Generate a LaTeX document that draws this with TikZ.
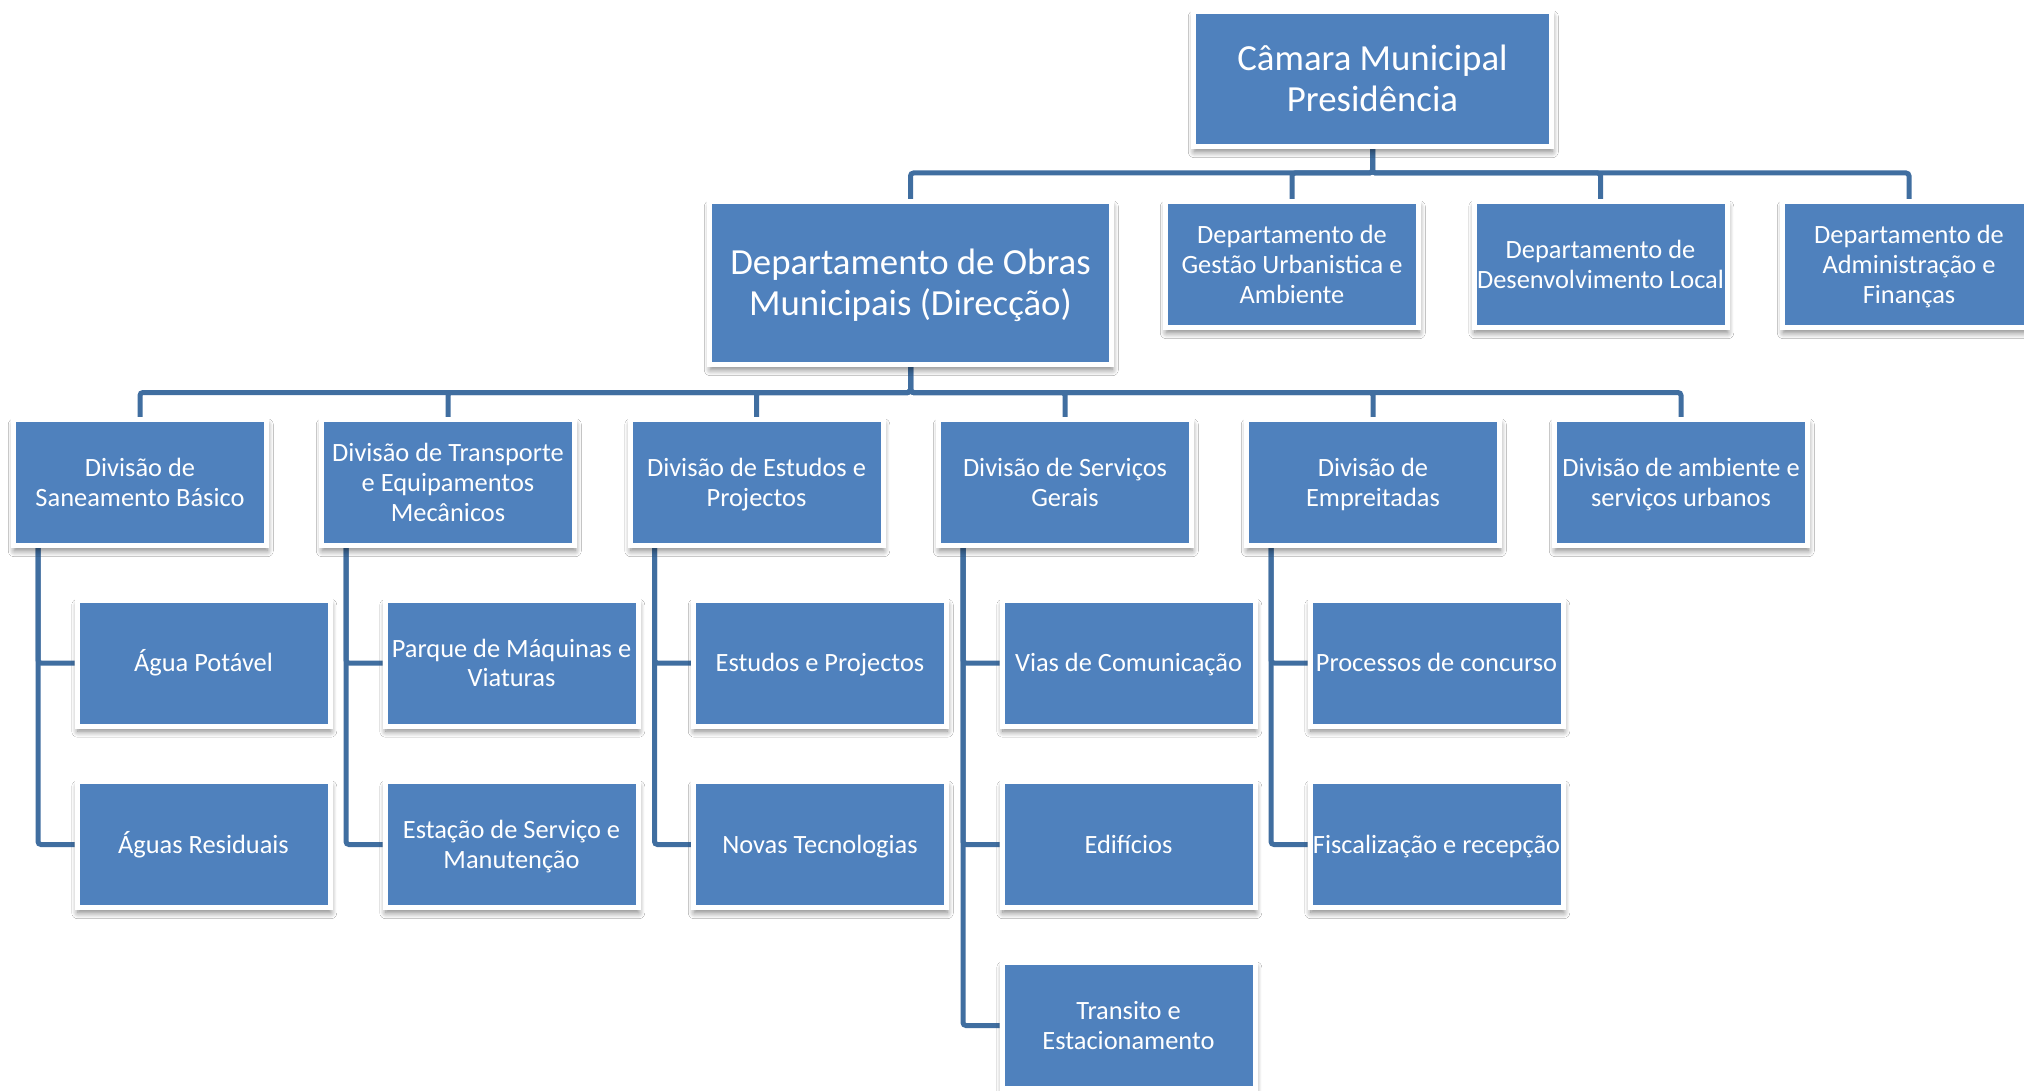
\documentclass[tikz,border=0pt]{standalone}
\usepackage{fontspec}
\setmainfont{Carlito}
\usetikzlibrary{shadows,shadows.blur,backgrounds}
\definecolor{boxblue}{HTML}{4F81BD}
\definecolor{linkblue}{RGB}{64,110,160}
\newcommand\vp{\vphantom{Áp}}
\tikzset{
  base/.style={draw=white, line width=2.5pt, fill=boxblue, text=white, align=center, inner sep=0pt,
    blur shadow={shadow xshift=0.4pt, shadow yshift=-2.6pt, shadow blur radius=3pt, shadow blur steps=10, shadow opacity=50}},
  bigbox/.style={base, font=\fontsize{18.4}{20.6}\selectfont},
  smallbox/.style={base, minimum width=126.5pt, minimum height=63pt, font=\fontsize{13.2}{14.9}\selectfont},
  conn/.style={draw=linkblue, line width=2.5pt, rounded corners=1.5pt},
}
\begin{document}
\begin{tikzpicture}[x=0.5pt,y=-0.5pt]
\useasboundingbox (0,0) rectangle (2024,1091);
% top
\node[bigbox, minimum width=179pt, minimum height=67.5pt] (top) at (1372.5,79) {\vp Câmara Municipal\\Presidência\vp};
% departments
\node[bigbox, minimum width=201pt, minimum height=81.5pt] (obras) at (910.5,283) {\vp Departamento de Obras\\Municipais (Direcção)\vp};
\node[smallbox] (dg) at (1292,264.5) {\vp Departamento de\\Gestão Urbanistica e\\Ambiente\vp};
\node[smallbox] (dd) at (1600.5,264.5) {\vp Departamento de\\Desenvolvimento Local\vp};
\node[smallbox] (da) at (1909,264.5) {\vp Departamento de\\Administração e\\Finanças\vp};
% divisions
\node[smallbox] (d1) at (140,482.5) {\vp Divisão de\\Saneamento Básico\vp};
\node[smallbox] (d2) at (448,482.5) {\vp Divisão de Transporte\\e Equipamentos\\Mecânicos\vp};
\node[smallbox] (d3) at (756.5,482.5) {\vp Divisão de Estudos e\\Projectos\vp};
\node[smallbox] (d4) at (1065,482.5) {\vp Divisão de Serviços\\Gerais\vp};
\node[smallbox] (d5) at (1373,482.5) {\vp Divisão de\\Empreitadas\vp};
\node[smallbox] (d6) at (1681,482.5) {\vp Divisão de ambiente e\\serviços urbanos\vp};
% children
\node[smallbox] (c11) at (203.5,663) {\vp Água Potável\vp};
\node[smallbox] (c12) at (203.5,844.5) {\vp Águas Residuais\vp};
\node[smallbox] (c21) at (511.5,663) {\vp Parque de Máquinas e\\Viaturas\vp};
\node[smallbox] (c22) at (511.5,844.5) {\vp Estação de Serviço e\\Manutenção\vp};
\node[smallbox] (c31) at (820,663) {\vp Estudos e Projectos\vp};
\node[smallbox] (c32) at (820,844.5) {\vp Novas Tecnologias\vp};
\node[smallbox] (c41) at (1128.5,663) {\vp Vias de Comunicação\vp};
\node[smallbox] (c42) at (1128.5,844.5) {\vp Edifícios\vp};
\node[smallbox] (c43) at (1128.5,1025.5) {\vp Transito e\\Estacionamento\vp};
\node[smallbox] (c51) at (1436.5,663) {\vp Processos de concurso\vp};
\node[smallbox] (c52) at (1436.5,844.5) {\vp Fiscalização e recepção\vp};
% connectors
\begin{scope}[on background layer]
  \fill[white] (0,0) rectangle (2024,1091);
  \coordinate (bus1) at (0,173);
  \coordinate (bus2) at (0,392.5);
  \foreach \n in {obras,dg,dd,da}
    \draw[conn] (top.south) -- (top.south |- bus1) -| (\n.north);
  \foreach \n in {d1,d2,d3,d4,d5,d6}
    \draw[conn] (obras.south) -- (obras.south |- bus2) -| (\n.north);
  \foreach \d/\c in {d1/c11,d1/c12,d2/c21,d2/c22,d3/c31,d3/c32,d4/c41,d4/c42,d4/c43,d5/c51,d5/c52}
    \draw[conn] ([xshift=-51pt]\d.south) |- (\c.west);
\end{scope}
\end{tikzpicture}
\end{document}
